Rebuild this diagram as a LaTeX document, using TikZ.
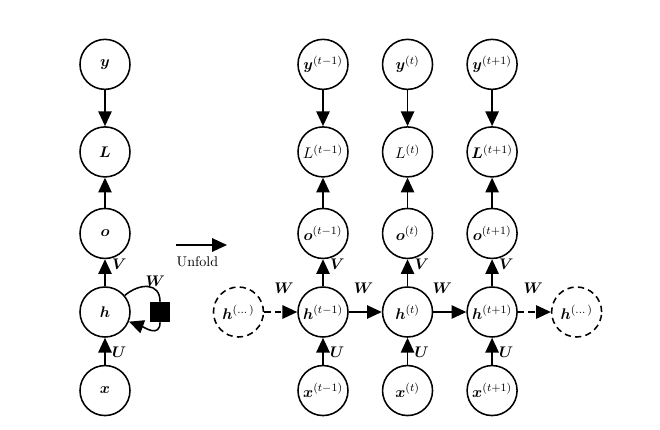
\documentclass[tikz,border=0pt]{standalone}
\usepackage{amsmath}
\usepackage{bm}
\usetikzlibrary{arrows.meta,positioning}
\tikzset{
  % Base circle
  VN/.style={circle,draw,line width=1.1pt,minimum size=1.25cm,inner sep=0pt,
             font=\fontsize{11}{13}\selectfont},
  % Dashed circle
  DN/.style={VN,dash pattern=on 4.5pt off 3pt},
  % Weight box on the loop
  SQ/.style={rectangle,fill=black,minimum size=0.5cm,inner sep=0pt},
  % Arrow
  arr/.style={-{Triangle[length=10.5pt,width=9.5pt]},line width=1.1pt},
  % Label styles
  LW/.style={inner sep=1.5pt,font=\fontsize{11}{13}\selectfont},
  LR/.style={LW,right=3pt},
  LA/.style={LW,above=11pt}
}
\begin{document}
\begin{tikzpicture}
  \useasboundingbox (0,0) rectangle (16.5,-10.725);

  % folded graph
  \node[VN] (hl) at (2.625,-7.8) {$\bm{h}$};
  \node[VN,above=0.675cm of hl] (ol) {$\bm{o}$};
  \node[VN,above=0.75cm of ol]  (Ll) {$\bm{L}$};
  \node[VN,above=0.9cm of Ll]   (yl) {$\bm{y}$};
  \node[VN,below=0.675cm of hl] (xl) {$\bm{x}$};
  \node[SQ,right=0.475cm of hl] (sq) {};

  \draw[arr](yl)--(Ll);
  \draw[arr](ol)--(Ll);
  \draw[arr](hl)-- node[LR,pos=0.8]{$\bm{V}$} (ol);
  \draw[arr](xl)-- node[LR,pos=0.45]{$\bm{U}$} (hl);
  \draw[line width=1.1pt](hl.40) to[out=40,in=90,looseness=1.4] node[LW,above,pos=0.7]{$\bm{W}$} (sq.north);
  \draw[arr](sq.south) to[out=-90,in=-20,looseness=1.3] (hl.-22);

  % unfold arrow
  \coordinate (u1) at (4.4,-6.125);
  \coordinate (u2) at (5.675,-6.125);
  \draw[arr](u1)-- node[below=4pt,pos=0.42]{Unfold} (u2);

  % unfolded graph
  \node[VN] (ha) at (8.075,-7.8) {$\bm{h}^{(t-1)}$};
  \node[VN,right=0.825cm of ha] (hb) {$\bm{h}^{(t)}$};
  \node[VN,right=0.825cm of hb] (hc) {$\bm{h}^{(t+1)}$};
  \node[DN,left=0.825cm of ha]  (hd1) {$\bm{h}^{(\dots)}$};
  \node[DN,right=0.825cm of hc] (hd2) {$\bm{h}^{(\dots)}$};

  \node[VN,above=0.675cm of ha] (oa) {$\bm{o}^{(t-1)}$};
  \node[VN,above=0.675cm of hb] (ob) {$\bm{o}^{(t)}$};
  \node[VN,above=0.675cm of hc] (oc) {$\bm{o}^{(t+1)}$};
  \node[VN,above=0.75cm of oa]  (La) {$L^{(t-1)}$};
  \node[VN,above=0.75cm of ob]  (Lb) {$L^{(t)}$};
  \node[VN,above=0.75cm of oc]  (Lc) {$\bm{L}^{(t+1)}$};
  \node[VN,above=0.9cm of La]   (ya) {$\bm{y}^{(t-1)}$};
  \node[VN,above=0.9cm of Lb]   (yb) {$\bm{y}^{(t)}$};
  \node[VN,above=0.9cm of Lc]   (yc) {$\bm{y}^{(t+1)}$};
  \node[VN,below=0.675cm of ha] (xa) {$\bm{x}^{(t-1)}$};
  \node[VN,below=0.675cm of hb] (xb) {$\bm{x}^{(t)}$};
  \node[VN,below=0.675cm of hc] (xc) {$\bm{x}^{(t+1)}$};

  \draw[arr](ya)--(La);
  \draw[arr](yb)--(Lb);
  \draw[arr](yc)--(Lc);
  \draw[arr](oa)--(La);
  \draw[arr](ob)--(Lb);
  \draw[arr](oc)--(Lc);
  \draw[arr](ha)-- node[LR,pos=0.8]{$\bm{V}$} (oa);
  \draw[arr](hb)-- node[LR,pos=0.8]{$\bm{V}$} (ob);
  \draw[arr](hc)-- node[LR,pos=0.8]{$\bm{V}$} (oc);
  \draw[arr](xa)-- node[LR,pos=0.45]{$\bm{U}$} (ha);
  \draw[arr](xb)-- node[LR,pos=0.45]{$\bm{U}$} (hb);
  \draw[arr](xc)-- node[LR,pos=0.45]{$\bm{U}$} (hc);

  \draw[arr,dash pattern=on 4.5pt off 3pt](hd1)-- node[LA,pos=0.6]{$\bm{W}$} (ha);
  \draw[arr](ha)-- node[LA,pos=0.45]{$\bm{W}$} (hb);
  \draw[arr](hb)-- node[LA,pos=0.27]{$\bm{W}$} (hc);
  \draw[arr,dash pattern=on 4.5pt off 3pt](hc)-- node[LA,pos=0.47]{$\bm{W}$} (hd2);
\end{tikzpicture}
\end{document}
